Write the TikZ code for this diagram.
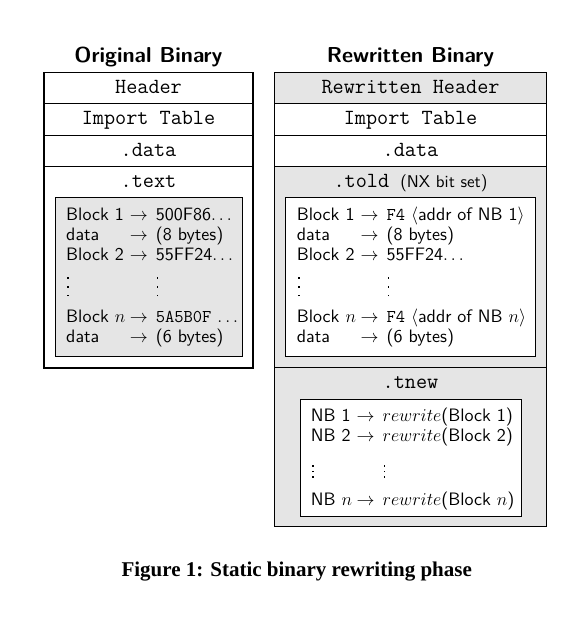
\RequirePackage{fix-cm}
\documentclass[tikz,border=0pt]{standalone}
\usepackage{fontspec}
\newfontfamily\capfont{Liberation Serif}
\newfontfamily\bodysf{lmsans10-regular.otf}[BoldFont=lmsans10-bold.otf]
\definecolor{secgray}{RGB}{229,229,229}
\newcommand{\dotbox}{\hbox{\hspace{1pt}\rule{1.6pt}{1.6pt}}}
\newcommand{\vdl}{\vbox{\dotbox\vskip7.1pt\dotbox\vskip7.1pt\dotbox}}
\newcommand{\vds}{\vbox{\dotbox\vskip3.8pt\dotbox\vskip3.8pt\dotbox}}
\newcommand{\ra}{$\rightarrow$}
\tikzset{
  secframe/.style={draw, line width=1.1pt},
  innerframe/.style={draw, line width=0.9pt},
  lbl/.style={anchor=base, inner sep=0pt, font=\fontsize{21.6}{26}\selectfont\ttfamily},
  ttl/.style={anchor=base, inner sep=0pt, font=\fontsize{21.6}{26}\selectfont\sffamily\bfseries},
  body/.style={anchor=base west, inner sep=0pt, font=\fontsize{18}{20}\selectfont\bodysf},
  captext/.style={anchor=base, inner sep=0pt, font=\fontsize{21}{25}\selectfont\capfont\bfseries},
}
\begin{document}
\begin{tikzpicture}[x=1pt,y=-1pt]
\useasboundingbox (0,0) rectangle (588,631);

% ---------- Original binary ----------
\node[ttl] (tO) at (148.5,63) {Original Binary};
\draw[secframe] (44,72.5) rectangle (253,368);
\draw[secframe] (44,103.5) -- (253,103.5);
\draw[secframe] (44,135.5) -- (253,135.5);
\draw[secframe] (44,166.5) -- (253,166.5);
\node[lbl] (hL) at (148.5,93.5) {Header};
\node[lbl] (iL) at (148.5,124.5) {Import Table};
\node[lbl] (dL) at (148.5,156.5) {.data};
\node[lbl] (xL) at (148.5,187.5) {.text};
\draw[innerframe, fill=secgray] (55.5,197.5) rectangle (242,356);
\node[body] (bL) at (66,220) {\begin{tabular}[t]{@{}l@{\hspace{4.5pt}}l@{\hspace{8pt}}l@{}}
Block 1 & \ra & 500F86$\ldots$\\
data & \ra & (8 bytes)\\
Block 2 & \ra & 55FF24$\ldots$\\[11.2pt]
\vdl & & \vdl\\[6pt]
Block $n$ & \ra & \texttt{5A5B0F} $\ldots$\\
data & \ra & (6 bytes)
\end{tabular}};

% ---------- Rewritten binary ----------
\node[ttl] (tR) at (410.5,63) {Rewritten Binary};
\fill[secgray] (274.5,72.5) rectangle (546.5,103.5);
\fill[secgray] (274.5,166.5) rectangle (546.5,526.5);
\draw[secframe] (274.5,72.5) rectangle (546.5,526.5);
\draw[secframe] (274.5,103.5) -- (546.5,103.5);
\draw[secframe] (274.5,135.5) -- (546.5,135.5);
\draw[secframe] (274.5,166.5) -- (546.5,166.5);
\draw[secframe] (274.5,367.5) -- (546.5,367.5);
\node[lbl] (hR) at (410.5,93.5) {Rewritten Header};
\node[lbl] (iR) at (410.5,124.5) {Import Table};
\node[lbl] (dR) at (410.5,156.5) {.data};
\node[lbl] (oR) at (410.5,187.5) {.told {\bodysf\fontsize{17}{19}\selectfont(NX bit set)}};
\draw[innerframe, fill=white] (285.5,197.5) rectangle (535.5,356.5);
\node[body] (bR) at (296.7,220) {\begin{tabular}[t]{@{}l@{\hspace{4.5pt}}l@{\hspace{8pt}}l@{}}
Block 1 & \ra & \texttt{F4} $\langle$addr of NB 1$\rangle$\\
data & \ra & (8 bytes)\\
Block 2 & \ra & 55FF24$\ldots$\\[11.2pt]
\vdl & & \vdl\\[6pt]
Block $n$ & \ra & \texttt{F4} $\langle$addr of NB $n\rangle$\\
data & \ra & (6 bytes)
\end{tabular}};
\node[lbl] (nR) at (410.5,388.5) {.tnew};
\draw[innerframe, fill=white] (300,399) rectangle (521,516);
\node[body] (bN) at (310.7,421) {\begin{tabular}[t]{@{}l@{\hspace{4.5pt}}l@{\hspace{8pt}}l@{}}
NB 1 & \ra & $rewrite$(Block 1)\\
NB 2 & \ra & $rewrite$(Block 2)\\[16.5pt]
\vds & & \vds\\[7.5pt]
NB $n$ & \ra & $rewrite$(Block $n$)
\end{tabular}};

% ---------- caption ----------
\node[captext] (cp) at (296.7,576) {Figure 1: Static binary rewriting phase};
\end{tikzpicture}
\end{document}
